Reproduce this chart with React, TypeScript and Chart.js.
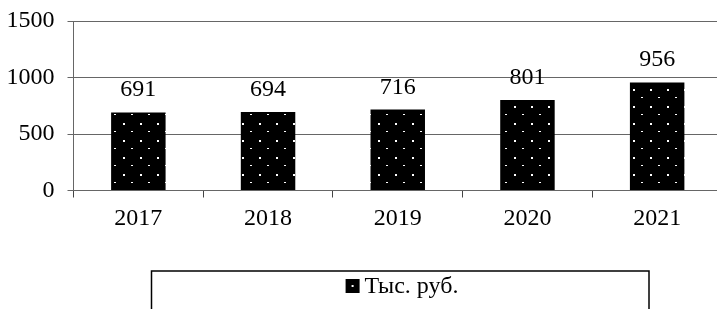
import React, { useEffect, useRef } from "react";
import { Chart, registerables } from "chart.js";

Chart.register(...registerables);

const categories = ["2017", "2018", "2019", "2020", "2021"];
const values = [691, 694, 716, 801, 956];
const yTicks = [0, 500, 1000, 1500];
const seriesLabel = "Тыс. руб.";

const FONT = '"Liberation Serif", "Times New Roman", serif';
const FS = 24;

function makePattern(): CanvasPattern | string {
  const c = document.createElement("canvas");
  c.width = 17;
  c.height = 17;
  const g = c.getContext("2d");
  if (!g) return "#000";
  g.fillStyle = "#000";
  g.fillRect(0, 0, 17, 17);
  g.fillStyle = "#fff";
  g.fillRect(4, 4, 2, 2);
  g.fillRect(12, 12, 2, 1);
  const p = g.createPattern(c, "repeat");
  return p || "#000";
}

export default function App() {
  const ref = useRef<HTMLCanvasElement | null>(null);

  useEffect(() => {
    const canvas = ref.current;
    if (!canvas) return;
    const pattern = makePattern();

    const labelsPlugin = {
      id: "valueLabels",
      afterDatasetsDraw(chart: any) {
        const ctx = chart.ctx;
        const meta = chart.getDatasetMeta(0);
        ctx.save();
        ctx.font = `${FS}px ${FONT}`;
        ctx.fillStyle = "#000";
        ctx.textAlign = "center";
        ctx.textBaseline = "alphabetic";
        meta.data.forEach((el: any, i: number) => {
          ctx.fillText(String(values[i]), el.x, el.y - 16);
        });
        ctx.restore();
      },
    };

    const legendPlugin = {
      id: "boxLegend",
      afterDraw(chart: any) {
        const ctx = chart.ctx;
        ctx.save();
        ctx.strokeStyle = "#000";
        ctx.lineWidth = 1.5;
        ctx.strokeRect(151.5, 271, 497.5, 60);
        ctx.font = `${FS}px ${FONT}`;
        const tw = ctx.measureText(seriesLabel).width;
        const box = 14;
        const gap = 5;
        const total = box + gap + tw;
        const x0 = 402 - total / 2;
        ctx.fillStyle = "#000";
        ctx.fillRect(x0, 279, box, box);
        ctx.fillStyle = "#fff";
        ctx.fillRect(x0 + 6, 285, 2, 2);
        ctx.fillStyle = "#000";
        ctx.textAlign = "left";
        ctx.textBaseline = "alphabetic";
        ctx.fillText(seriesLabel, x0 + box + gap, 293);
        ctx.restore();
      },
    };

    const chart = new Chart(canvas, {
      type: "bar",
      data: {
        labels: categories,
        datasets: [
          {
            label: seriesLabel,
            data: values,
            backgroundColor: pattern as any,
            borderWidth: 0,
            barPercentage: 0.42,
            categoryPercentage: 1,
          },
        ],
      },
      options: {
        responsive: false,
        maintainAspectRatio: false,
        animation: false,
        devicePixelRatio: 1,
        layout: { padding: { top: 21, left: 0, right: 0, bottom: 0 } },
        plugins: {
          legend: { display: false },
          tooltip: { enabled: false },
        },
        scales: {
          x: {
            offset: true,
            grid: {
              display: true,
              drawOnChartArea: false,
              drawTicks: true,
              tickLength: 7,
              color: "#444",
              offset: true,
            },
            border: { display: true, color: "#666", width: 1 },
            ticks: {
              color: "#000",
              font: { family: FONT, size: FS },
              padding: 7,
              maxRotation: 0,
            },
            afterFit: (s: any) => {
              s.height = 309 - 190.5;
              s.paddingLeft = 0;
              s.paddingRight = 0;
            },
          },
          y: {
            min: 0,
            max: 1500,
            afterBuildTicks: (s: any) => {
              s.ticks = yTicks.map((v) => ({ value: v }));
            },
            grid: {
              color: "#666",
              lineWidth: 1,
              tickLength: 6,
              drawTicks: true,
            },
            border: { display: true, color: "#666", width: 1 },
            ticks: {
              color: "#000",
              font: { family: FONT, size: FS },
              padding: 13,
              callback: (v: any) => String(v),
            },
            afterFit: (s: any) => {
              s.width = 73.5;
              s.paddingTop = 0;
              s.paddingBottom = 0;
            },
          },
        },
      },
      plugins: [labelsPlugin, legendPlugin],
    });

    return () => chart.destroy();
  }, []);

  return (
    <div
      style={{
        position: "fixed",
        left: 0,
        top: 0,
        width: 722,
        height: 309,
        background: "#fff",
      }}
    >
      <canvas ref={ref} width={722} height={309} style={{ width: 722, height: 309, display: "block" }} />
    </div>
  );
}
